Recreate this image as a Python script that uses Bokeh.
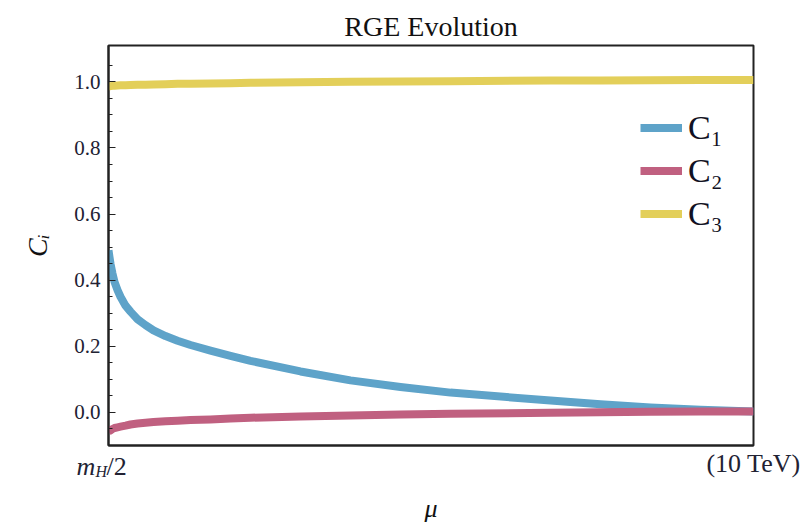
from bokeh.plotting import figure
from bokeh.models import (FixedTicker, Legend, LegendItem, Label, NumeralTickFormatter, Range1d)
from bokeh.embed import file_html
from bokeh.resources import INLINE

# renormalization scale mu in GeV (from m_H/2 to 10 TeV)
mu = [62.5, 62.99, 63.49, 64.50, 65.52, 67.10, 68.69, 71.46, 74.31, 78.54, 83.62, 89.06,
      97.87, 107.6, 119.2, 139.4, 163.2, 191.1, 283.2, 419.6, 621.9, 921.6, 2025, 3000,
      4446, 6589, 10000]
C1 = [0.49, 0.47, 0.45, 0.42, 0.395, 0.37, 0.35, 0.323, 0.305, 0.282, 0.264, 0.248,
      0.231, 0.217, 0.204, 0.187, 0.171, 0.156, 0.124, 0.097, 0.077, 0.060, 0.036, 0.025,
      0.015, 0.008, 0.003]
C2 = [-0.058, -0.056, -0.054, -0.050, -0.047, -0.045, -0.043, -0.040, -0.0365, -0.0335,
      -0.031, -0.029, -0.027, -0.025, -0.023, -0.021, -0.018, -0.016, -0.012, -0.009,
      -0.006, -0.004, -0.001, 0.0005, 0.002, 0.0025, 0.003]
C3 = [0.986, 0.9865, 0.987, 0.988, 0.9885, 0.989, 0.9895, 0.990, 0.9905, 0.991, 0.9915,
      0.992, 0.993, 0.994, 0.9945, 0.995, 0.996, 0.997, 0.999, 1.000, 1.001, 1.002, 1.004,
      1.0045, 1.005, 1.0055, 1.006]
series_names = ["C₁", "C₂", "C₃"]
colors = ["#5ea3c9", "#c06080", "#e3cf5a"]
y_ticks = [0.0, 0.2, 0.4, 0.6, 0.8, 1.0]
y_minor = [-0.05, 0.05, 0.1, 0.15, 0.25, 0.3, 0.35, 0.45, 0.5, 0.55, 0.65, 0.7, 0.75,
           0.85, 0.9, 0.95, 1.05]
x_ticks = [62.5, 10000]
x_tick_labels = {62.5: "", 10000: "(10 TeV)"}
left_tick_parts = ["m", "H", "/2"]

SERIF = "Liberation Serif"
TXT = "#222233"

p = figure(width=809, height=525, x_axis_type="log",
           x_range=Range1d(62.5, 10000), y_range=Range1d(-0.1, 1.11),
           output_backend="svg", toolbar_location=None,
           min_border_left=108, min_border_right=56, min_border_top=45, min_border_bottom=80)

p.title.text = "RGE Evolution"
p.title.align = "center"
p.title.text_font = SERIF
p.title.text_font_size = "28px"
p.title.text_font_style = "normal"
p.title.text_color = "#111111"
p.title.standoff = 7

p.xgrid.visible = False
p.ygrid.visible = False
p.outline_line_color = "#222222"
p.outline_line_width = 2
p.background_fill_color = "white"
p.border_fill_color = "white"

renderers = []
for ys, c in zip([C1, C2, C3], colors):
    r = p.line(mu, ys, line_color=c, line_width=8, line_join="round")
    renderers.append(r)

# y axis
ya = p.yaxis[0]
ya.ticker = FixedTicker(ticks=y_ticks, minor_ticks=y_minor)
ya.formatter = NumeralTickFormatter(format="0.0")
ya.major_tick_in = 7
ya.major_tick_out = 0
ya.minor_tick_in = 4
ya.minor_tick_out = 0
ya.major_tick_line_color = "#222222"
ya.minor_tick_line_color = "#222222"
ya.axis_line_color = "#222222"
ya.axis_line_width = 2
ya.major_label_text_font = SERIF
ya.major_label_text_font_size = "21px"
ya.major_label_text_color = TXT
ya.major_label_standoff = 8
ya.axis_label = "Cᵢ"
ya.axis_label_text_font = SERIF
ya.axis_label_text_font_style = "italic"
ya.axis_label_text_font_size = "28px"
ya.axis_label_text_color = "#111111"
ya.axis_label_standoff = 18

# x axis
xa = p.xaxis[0]
xa.ticker = FixedTicker(ticks=x_ticks)
xa.major_label_overrides = x_tick_labels
xa.major_tick_in = 0
xa.major_tick_out = 0
xa.minor_tick_in = 0
xa.minor_tick_out = 0
xa.axis_line_color = "#222222"
xa.axis_line_width = 2
xa.major_label_text_font = SERIF
xa.major_label_text_font_size = "26px"
xa.major_label_text_color = TXT
xa.major_label_standoff = 3
xa.axis_label = "μ"
xa.axis_label_text_font = SERIF
xa.axis_label_text_font_style = "italic"
xa.axis_label_text_font_size = "26px"
xa.axis_label_text_color = "#111111"
xa.axis_label_standoff = 13

# composed tick label m_H/2 at the left end of the x axis
# (kept in a side panel so that it is not clipped to the frame)
part_style = [("26px", "italic", -32, -21), ("16px", "italic", -13, -26), ("26px", "normal", -2, -21)]
for txt, (fs, st, dx, dy) in zip(left_tick_parts, part_style):
    lab = Label(x=x_ticks[0], y=-0.1, x_offset=dx, y_offset=dy, text=txt,
                text_font=SERIF, text_font_style=st, text_font_size=fs,
                text_align="left", text_baseline="alphabetic", text_color=TXT)
    p.add_layout(lab, "right")

legend = Legend(items=[LegendItem(label=n, renderers=[r]) for n, r in zip(series_names, renderers)],
                location=(532, 210), border_line_color=None, background_fill_alpha=0,
                padding=0, margin=0, spacing=0, glyph_width=42, glyph_height=43,
                label_height=43, label_standoff=6, label_text_font=SERIF,
                label_text_font_size="34px", label_text_color="#111122")
p.add_layout(legend)

open("out.html", "w").write(file_html(p, INLINE))
